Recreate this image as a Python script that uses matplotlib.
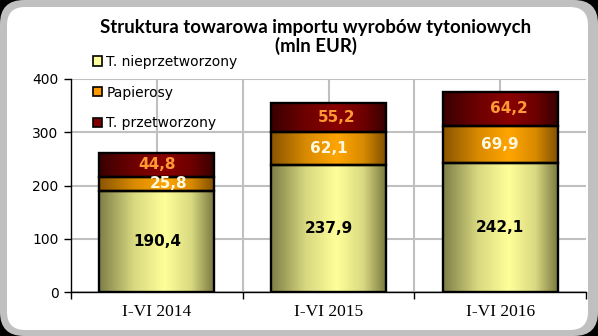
import numpy as np
import matplotlib.pyplot as plt
from matplotlib.colors import LinearSegmentedColormap
from matplotlib.patches import FancyBboxPatch, Patch

periods = ['I-VI 2014', 'I-VI 2015', 'I-VI 2016']
nieprzetworzony = [190.4, 237.9, 242.1]
papierosy = [25.8, 62.1, 69.9]
przetworzony = [44.8, 55.2, 64.2]
series_names = ['T. nieprzetworzony', 'Papierosy', 'T. przetworzony']

fig = plt.figure(figsize=(5.98, 3.36), dpi=100)
fig.patch.set_facecolor('black')

# frame
bg = fig.add_axes([0, 0, 1, 1])
bg.set_xlim(0, 598)
bg.set_ylim(0, 336)
bg.axis('off')
bg.add_patch(FancyBboxPatch((0, 0), 598, 336, boxstyle='round,pad=0,rounding_size=24',
                            fc='#c0c0c0', ec='none'))
bg.add_patch(FancyBboxPatch((7, 6), 581, 323, boxstyle='round,pad=0,rounding_size=18',
                            fc='white', ec='none'))

ax = fig.add_axes([71/598, 44/336, 515/598, 213/336])
ax.set_facecolor('none')
x = np.arange(len(periods))
width = 0.67

stops = [0, 0.3, 0.57, 0.8, 1]
cmaps = [
    LinearSegmentedColormap.from_list('y', list(zip(stops, ['#7e7e48', '#d8d880', '#ffff99', '#d8d880', '#76763e']))),
    LinearSegmentedColormap.from_list('o', list(zip(stops, ['#8a5400', '#d88a00', '#ffa500', '#d88a00', '#7e4e00']))),
    LinearSegmentedColormap.from_list('r', list(zip(stops, ['#3a0000', '#6e0000', '#8a0000', '#6e0000', '#360000']))),
]
legend_colors = ['#ffff99', '#ff9900', '#800000']
label_colors = ['black', '#fff8e0', '#ff9933']
label_dx = [[0, 0, 0], [0.07, 0, 0], [0, 0.05, 0.05]]

grad = np.linspace(0, 1, 256).reshape(1, -1)
bottom = np.zeros(len(periods))
for i, vals in enumerate([nieprzetworzony, papierosy, przetworzony]):
    bars = ax.bar(x, vals, width, bottom=bottom, color='none', edgecolor='black',
                  linewidth=1.7, zorder=4)
    for j, p in enumerate(bars.patches):
        ax.imshow(grad, cmap=cmaps[i], aspect='auto', zorder=3,
                  extent=[p.get_x(), p.get_x() + p.get_width(), p.get_y(), p.get_y() + p.get_height()])
        ax.text(x[j] + label_dx[i][j], bottom[j] + vals[j] / 2, f'{vals[j]:.1f}'.replace('.', ','),
                ha='center', va='center', fontsize=11, fontweight='bold',
                color=label_colors[i], zorder=5)
    bottom = bottom + np.array(vals)

ax.set_xlim(-0.5, 2.5)
ax.set_ylim(0, 400)
ax.set_yticks([0, 100, 200, 300, 400])
ax.yaxis.grid(True, color='#c0c0c0', linewidth=1.5, zorder=1)
for gx in [0, 0.5, 1, 1.5, 2]:
    ax.axvline(gx, color='#c0c0c0', linewidth=1.5, zorder=1)

ax.set_xticks(x)
ax.set_xticklabels(periods, fontfamily='Liberation Serif', fontsize=12.5)
ax.set_xticks([-0.5, 0.5, 1.5, 2.5], minor=True)
ax.tick_params(axis='x', which='major', length=0, pad=9)
ax.tick_params(axis='x', which='minor', length=5, direction='out', width=1)
ax.tick_params(axis='y', length=5, direction='out', width=1, labelsize=10, pad=4)
for s in ['top', 'right']:
    ax.spines[s].set_visible(False)
for s in ['left', 'bottom']:
    ax.spines[s].set_linewidth(1)
    ax.spines[s].set_zorder(6)

handles = [Patch(facecolor=c, edgecolor='black', linewidth=1.2) for c in legend_colors]
fig.legend(handles, series_names, loc='upper left', bbox_to_anchor=(93/598, 1 - 55/336),
           frameon=False, fontsize=10, handlelength=0.65, handleheight=0.65,
           handletextpad=0.3, labelspacing=1.2, borderpad=0, borderaxespad=0)

fig.text(316/598, 1 - 19/336, 'Struktura towarowa importu wyrobów tytoniowych\n(mln EUR)',
         ha='center', va='top', fontsize=13.4, fontweight='bold', fontfamily='Lato',
         linespacing=1.05)

fig.savefig('out.png', dpi=100, facecolor=fig.get_facecolor())
